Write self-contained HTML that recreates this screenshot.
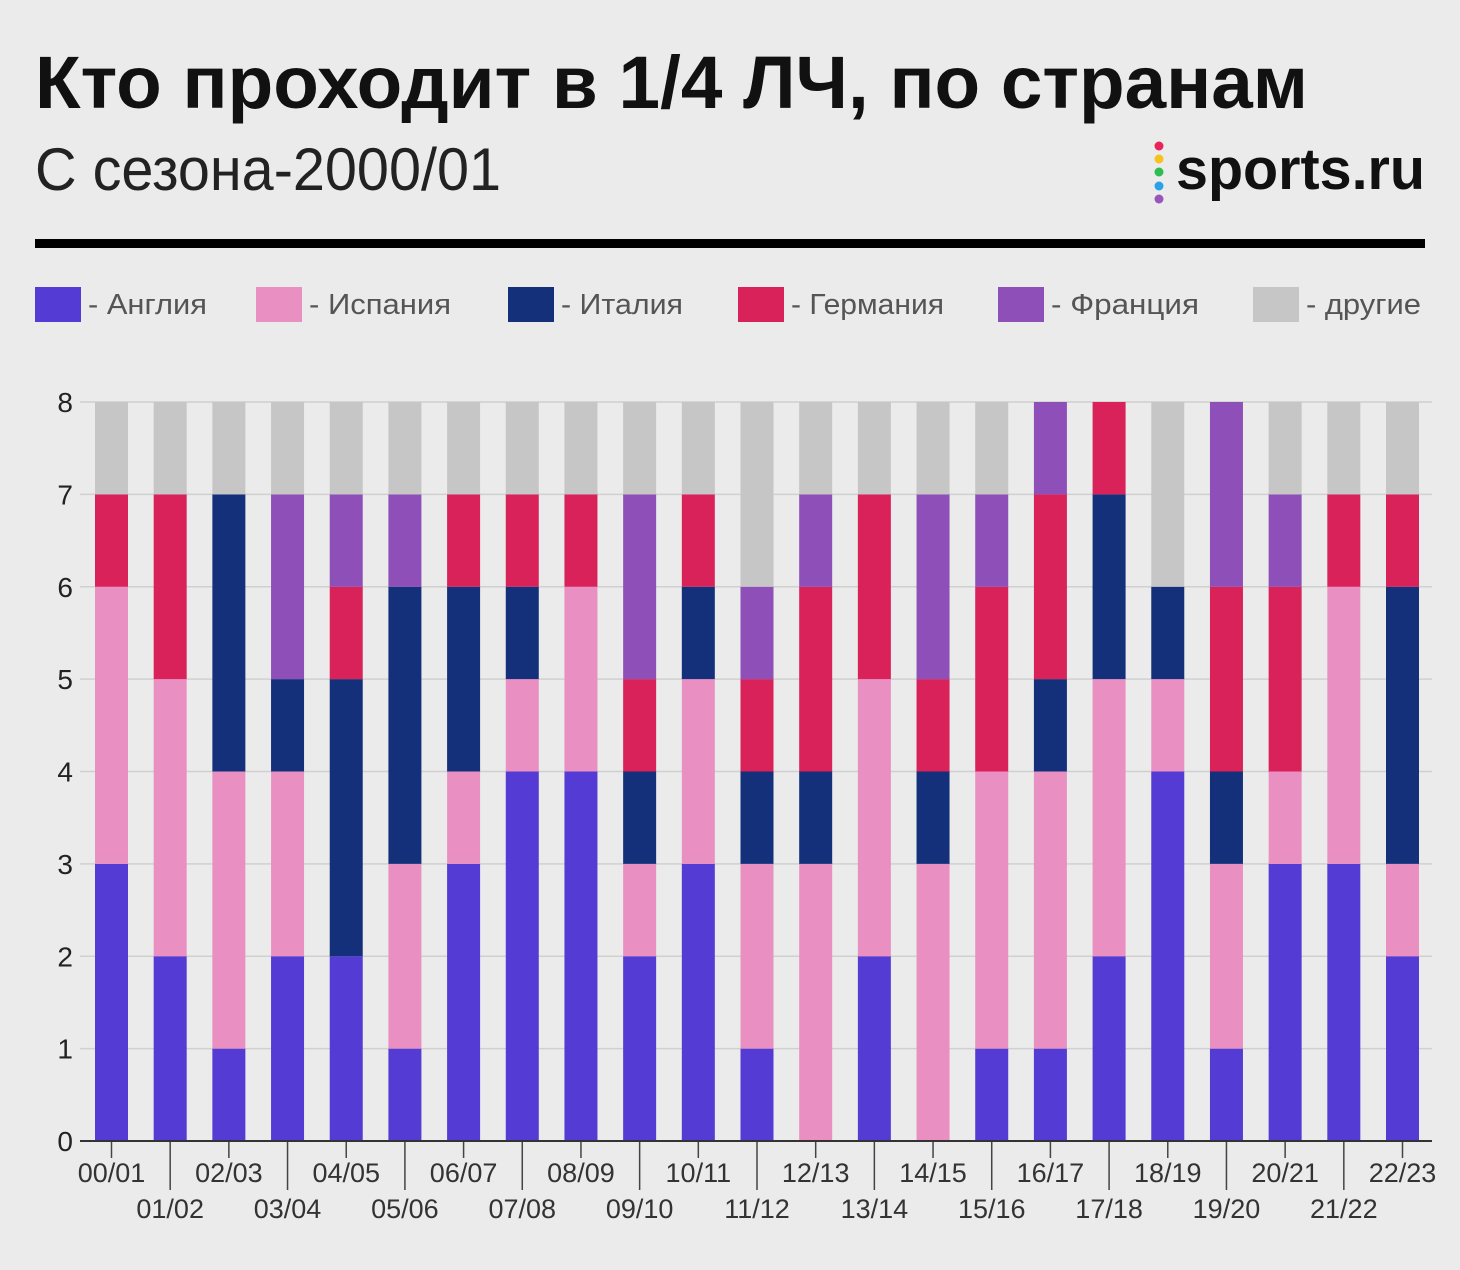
<!DOCTYPE html>
<html><head><meta charset="utf-8"><style>
html,body{margin:0;padding:0;background:#ebebeb;}
svg{display:block;font-family:"Liberation Sans","Noto Sans CJK SC",sans-serif;}
</style></head><body>
<svg id="chart" width="1460" height="1270" viewBox="0 0 1460 1270" xmlns="http://www.w3.org/2000/svg">
<rect width="1460" height="1270" fill="#ebebeb"/>
<text x="35" y="108" font-size="74" font-weight="bold" fill="#111" textLength="1273" lengthAdjust="spacingAndGlyphs">Кто проходит в 1/4 ЛЧ, по странам</text>
<text x="35" y="190" font-size="60" fill="#222" textLength="466" lengthAdjust="spacingAndGlyphs">С сезона-2000/01</text>
<g>
<circle cx="1159" cy="146" r="4.5" fill="#e8245a"/>
<circle cx="1159" cy="159" r="4.5" fill="#f7c21c"/>
<circle cx="1159" cy="172" r="4.5" fill="#2fbd4f"/>
<circle cx="1159" cy="186" r="4.5" fill="#2aa3e6"/>
<circle cx="1159" cy="199" r="4.5" fill="#9a55b8"/>
<text x="1176" y="189" font-size="58" font-weight="bold" fill="#111" textLength="249" lengthAdjust="spacingAndGlyphs">sports.ru</text>
</g>
<rect x="35" y="239" width="1390" height="9" fill="#000"/>
<g id="legend"></g>
<g id="grid"></g>
<g id="bars"></g>
<g id="axes"></g>
</svg>
<script>
const seasons=["00/01","01/02","02/03","03/04","04/05","05/06","06/07","07/08","08/09","09/10","10/11","11/12","12/13","13/14","14/15","15/16","16/17","17/18","18/19","19/20","20/21","21/22","22/23"];
const england=[3,2,1,2,2,1,3,4,4,2,3,1,0,2,0,1,1,2,4,1,3,3,2];
const spain  =[3,3,3,2,0,2,1,1,2,1,2,2,3,3,3,3,3,3,1,2,1,3,1];
const italy  =[0,0,3,1,3,3,2,1,0,1,1,1,1,0,1,0,1,2,1,1,0,0,3];
const germany=[1,2,0,0,1,0,1,1,1,1,1,1,2,2,1,2,2,1,0,2,2,1,1];
const france =[0,0,0,2,1,1,0,0,0,2,0,1,1,0,2,1,1,0,0,2,1,0,0];
const others =[1,1,1,1,1,1,1,1,1,1,1,2,1,1,1,1,0,0,2,0,1,1,1];
const seriesNames=["- Англия","- Испания","- Италия","- Германия","- Франция","- другие"];
const yTicks=[0,1,2,3,4,5,6,7,8];
const series=[england,spain,italy,germany,france,others];
const colors=["#533bd3","#ea8fc2","#14307a","#d9215a","#8e4fb8","#c6c6c6"];
const keys=["england","spain","italy","germany","france","others"];
const NS="http://www.w3.org/2000/svg";
const y0=1141,y8=402,xL=80,xR=1432;
const yScale=v=>y0-(y0-y8)*v/8;
const bw=33,step=(1402.5-111.5)/(seasons.length-1);
const xC=i=>111.5+i*step;
function mk(t,a,p){const e=document.createElementNS(NS,t);for(const k in a)e.setAttribute(k,a[k]);p.appendChild(e);return e;}
const grid=document.getElementById('grid'),bars=document.getElementById('bars'),axes=document.getElementById('axes'),legend=document.getElementById('legend');
yTicks.forEach(v=>{
 const l=mk('line',{x1:xL,x2:xR,y1:yScale(v),y2:yScale(v),stroke:'#d0d0d0','stroke-width':1.5},grid);
 
 
 const t=mk('text',{x:73,y:yScale(v)+10,'font-size':28,'text-anchor':'end',fill:'#222'},axes);
 t.textContent=v;
 
 
});
seasons.forEach((s,i)=>{
 let acc=0;
 series.forEach((arr,k)=>{
  const v=arr[i]; if(!v) return;
  const r=mk('rect',{x:xC(i)-bw/2,y:yScale(acc+v),width:bw,height:yScale(acc)-yScale(acc+v),fill:colors[k]},bars);
  
  
  acc+=v;
 });
 const odd=i%2===1;
 const tk=mk('line',{x1:xC(i),x2:xC(i),y1:y0,y2:odd?1190:1158,stroke:'#444','stroke-width':1.5},axes);
 
 
 const t=mk('text',{x:xC(i),y:odd?1218:1182,'font-size':27,'text-anchor':'middle',fill:'#333'},axes);
 t.textContent=s;
 
 
});
const ax=mk('line',{x1:xL,x2:xR,y1:y0,y2:y0,stroke:'#333','stroke-width':2},axes);


const lx=[35,256,508,738,998,1253],lw=[119,142,122,153,148,115];
seriesNames.forEach((n,k)=>{
 const g=mk('g',{},legend);
 
 
 mk('rect',{x:lx[k],y:287,width:46,height:35,fill:colors[k]},g);
 const t=mk('text',{x:lx[k]+53,y:314,'font-size':29,fill:'#555',textLength:lw[k],lengthAdjust:'spacingAndGlyphs'},g);
 t.textContent=n;
});
</script>
</body></html>
